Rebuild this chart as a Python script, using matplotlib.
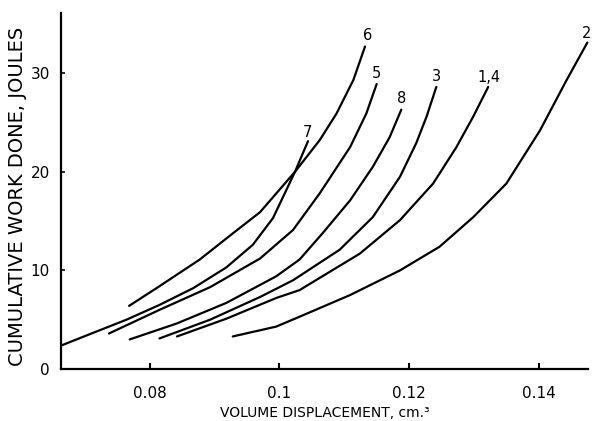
import matplotlib.pyplot as plt

plt.rcParams["font.family"] = ["DejaVu Sans"]

# Curves (volume displacement cm^3, cumulative work J)
c6_x = [0.0768, 0.0815, 0.0877, 0.0929, 0.0970, 0.1024, 0.1062, 0.1088, 0.1114, 0.1132]
c6_y = [6.4, 8.4, 11.1, 13.8, 15.9, 20.0, 23.2, 25.9, 29.3, 32.7]

c7_x = [0.0664, 0.0710, 0.0764, 0.0815, 0.0867, 0.0918, 0.0959, 0.0990, 0.1024, 0.1044]
c7_y = [2.4, 3.6, 5.0, 6.5, 8.2, 10.3, 12.6, 15.3, 20.0, 23.1]

c5_x = [0.0737, 0.0815, 0.0893, 0.0970, 0.1021, 0.1062, 0.1109, 0.1134, 0.1150]
c5_y = [3.6, 6.0, 8.3, 11.2, 14.1, 17.8, 22.5, 25.9, 28.9]

c8_x = [0.0769, 0.0841, 0.0918, 0.0995, 0.1031, 0.1067, 0.1109, 0.1144, 0.1170, 0.1188]
c8_y = [3.0, 4.6, 6.7, 9.4, 11.1, 13.8, 17.1, 20.5, 23.5, 26.3]

c3_x = [0.0815, 0.0893, 0.0970, 0.1021, 0.1093, 0.1144, 0.1186, 0.1211, 0.1227, 0.1242]
c3_y = [3.1, 5.0, 7.3, 9.0, 12.1, 15.4, 19.5, 22.9, 25.6, 28.6]

c14_x = [0.0842, 0.0918, 0.0995, 0.1031, 0.1124, 0.1186, 0.1237, 0.1273, 0.1299, 0.1322]
c14_y = [3.3, 5.1, 7.2, 8.0, 11.7, 15.1, 18.8, 22.5, 25.6, 28.6]

c2_x = [0.0928, 0.0995, 0.1031, 0.1109, 0.1186, 0.1247, 0.1299, 0.1350, 0.1402, 0.1443, 0.1475]
c2_y = [3.3, 4.3, 5.3, 7.5, 10.0, 12.4, 15.4, 18.8, 24.2, 29.3, 33.1]

curve_names = ["6", "7", "5", "8", "3", "1,4", "2"]
label_x = [0.1136, 0.1043, 0.1149, 0.1189, 0.1242, 0.1324, 0.1474]
label_y = [33.8, 24.0, 30.0, 27.4, 29.7, 29.6, 34.0]

fig = plt.figure(figsize=(5.93, 4.21), dpi=100)
ax = fig.add_axes([61 / 593, 52 / 421, 527 / 593, 356 / 421])

curves = [(c6_x, c6_y), (c7_x, c7_y), (c5_x, c5_y), (c8_x, c8_y),
          (c3_x, c3_y), (c14_x, c14_y), (c2_x, c2_y)]
for (xs, ys) in curves:
    ax.plot(xs, ys, color="black", linewidth=1.6, solid_capstyle="round",
            solid_joinstyle="round", clip_on=False)

for name, lx, ly in zip(curve_names, label_x, label_y):
    ax.text(lx, ly, name, ha="center", va="center", fontsize=10.5)

ax.set_xlim(0.0663, 0.1476)
ax.set_ylim(0, 36.1)
ax.set_xticks([0.08, 0.1, 0.12, 0.14])
ax.set_xticklabels(["0.08", "0.1", "0.12", "0.14"])
ax.set_yticks([0, 10, 20, 30])

for side in ["top", "right"]:
    ax.spines[side].set_visible(False)
for side in ["left", "bottom"]:
    ax.spines[side].set_linewidth(1.6)

ax.tick_params(axis="x", direction="in", length=4, width=1.5, pad=12, labelsize=11)
ax.tick_params(axis="y", direction="in", length=3, width=1.2, pad=8, labelsize=11)

ax.set_xlabel("VOLUME DISPLACEMENT, cm.³", fontsize=10)
ax.xaxis.set_label_coords(0.5, -0.104)
ax.set_ylabel("CUMULATIVE WORK DONE, JOULES", fontsize=14)
ax.yaxis.set_label_coords(-0.064, 0.485)

fig.savefig("out.png", dpi=100)
